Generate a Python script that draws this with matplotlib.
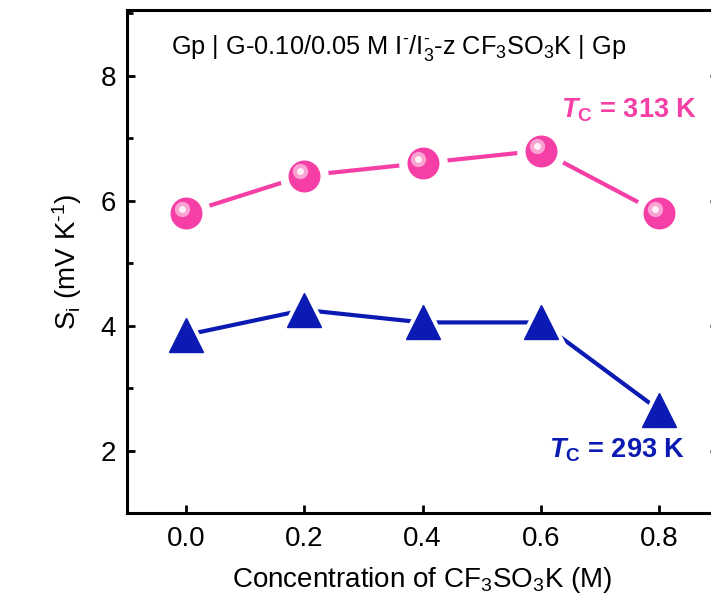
import matplotlib
matplotlib.use("Agg")
import matplotlib.pyplot as plt
from matplotlib.ticker import MultipleLocator
from matplotlib.transforms import offset_copy

plt.rcParams['font.family'] = ['Liberation Sans', 'DejaVu Sans']
plt.rcParams['mathtext.fontset'] = 'custom'
plt.rcParams['mathtext.rm'] = 'Liberation Sans'
plt.rcParams['mathtext.it'] = 'Liberation Sans:italic:bold'
plt.rcParams['mathtext.bf'] = 'Liberation Sans:bold'

# data
conc = [0.0, 0.2, 0.4, 0.6, 0.8]
si_313 = [5.8, 6.4, 6.6, 6.8, 5.8]
si_293 = [3.85, 4.25, 4.05, 4.05, 2.65]
xticks = [0.0, 0.2, 0.4, 0.6, 0.8]
yticks = [2, 4, 6, 8]

pink = '#F53FA7'
pink_hi = '#F9A3D2'
blue = '#0A1AB2'

fig = plt.figure(figsize=(7.11, 6.13), dpi=100)
ax = fig.add_axes([127 / 711, 1 - 513 / 613, (718 - 127) / 711, (513 - 10) / 613])

# lines with little white gaps round the markers (Origin style)
ax.plot(conc, si_313, '-', color=pink, lw=3, zorder=2)
ax.plot(conc, si_293, '-', color=blue, lw=3, zorder=2)
ax.plot(conc, si_313, 'o', ls='none', ms=34, mfc='white', mec='white', zorder=3)
ax.plot(conc, si_293, '^', ls='none', ms=38, mfc='white', mec='white', zorder=3)

# spheres
ax.plot(conc, si_313, 'o', ls='none', ms=22, color=pink, mec=pink, zorder=4)
hi = offset_copy(ax.transData, fig=fig, x=-3, y=3, units='points')
ax.plot(conc, si_313, 'o', ls='none', ms=11, color=pink_hi, mec='none', zorder=5, transform=hi)
ax.plot(conc, si_313, 'o', ls='none', ms=5, color='#FFF0F8', mec='none', zorder=6, transform=hi)

# triangles
ax.plot(conc, si_293, '^', ls='none', ms=24, color=blue, mec=blue, zorder=4)

ax.set_xlim(-0.1, 0.9)
ax.set_ylim(1.0, 9.05)
ax.set_xticks(xticks)
ax.set_xticklabels([f'{v:.1f}' for v in xticks])
ax.set_yticks(yticks)
ax.yaxis.set_minor_locator(MultipleLocator(1))

for s in ax.spines.values():
    s.set_linewidth(2.2)
ax.tick_params(axis='both', which='major', direction='in', length=6, width=2,
               labelsize=20, pad=8)
ax.tick_params(axis='y', which='both', right=True)
ax.tick_params(axis='y', which='minor', direction='in', length=4, width=2)
ax.tick_params(axis='x', which='major', pad=9)

ax.set_xlabel(r'Concentration of CF$_3$SO$_3$K (M)', fontsize=20, labelpad=10)
ax.set_ylabel('S$_\\mathrm{i}$ (mV K$^{\u2010 1}$)', fontsize=20, labelpad=12)

ax.text(0.459, 0.925, 'Gp | G-0.10/0.05 M I$^{\u2010}$/I$_3^{\u2010}$-z CF$_3$SO$_3$K | Gp',
        transform=ax.transAxes, ha='center', va='center', fontsize=18.3)
ax.text(0.865, 7.45, r'$T_{\mathbf{C}}$ = 313 K', color=pink, fontsize=19.5,
        fontweight='bold', ha='right', va='center')
ax.text(0.845, 2.0, r'$T_{\mathbf{C}}$ = 293 K', color=blue, fontsize=19.5,
        fontweight='bold', ha='right', va='center')

fig.savefig('out.png', dpi=100)
